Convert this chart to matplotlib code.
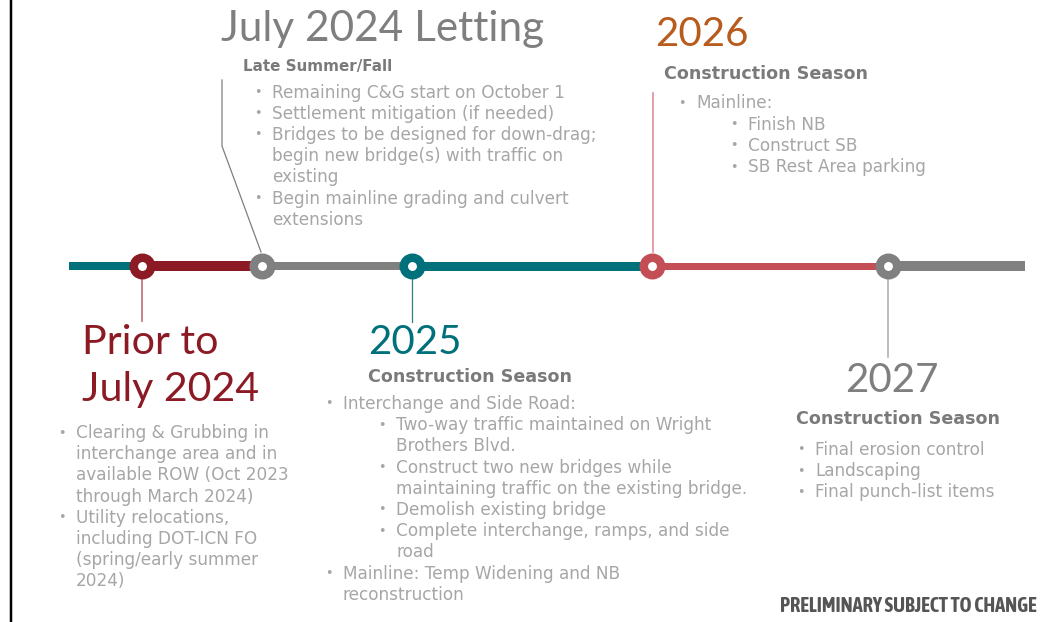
import matplotlib.pyplot as plt
from matplotlib import font_manager

plt.rcParams['font.family'] = ['DejaVu Sans']

# timeline milestones (pixel x along the line)
milestones = ["Prior to July 2024", "July 2024 Letting", "2025", "2026", "2027"]
milestone_x = [142, 262, 412, 652, 888]
milestone_colors = ["#8B1A24", "#808080", "#00707A", "#C44E55", "#808080"]

# line segments between milestones
segment_x = [69, 142, 262, 412, 652, 888, 1025]
segment_colors = ["#00707A", "#8B1A24", "#808080", "#00707A", "#C44E55", "#808080"]
segment_widths = [8, 10, 8, 9, 7, 10]

prior_bullets = ["Clearing & Grubbing in", "interchange area and in", "available ROW (Oct 2023",
                 "through March 2024)", "Utility relocations,", "including DOT-ICN FO",
                 "(spring/early summer", "2024)"]
prior_bullet_rows = [0, 4]

letting_bullets = ["Remaining C&G start on October 1", "Settlement mitigation (if needed)",
                   "Bridges to be designed for down-drag;", "begin new bridge(s) with traffic on",
                   "existing", "Begin mainline grading and culvert", "extensions"]
letting_bullet_rows = [0, 1, 2, 5]

y2025_lines = ["Interchange and Side Road:", "Two-way traffic maintained on Wright",
               "Brothers Blvd.", "Construct two new bridges while",
               "maintaining traffic on the existing bridge.", "Demolish existing bridge",
               "Complete interchange, ramps, and side", "road",
               "Mainline: Temp Widening and NB", "reconstruction"]
y2025_levels = [0, 1, 1, 1, 1, 1, 1, 1, 0, 0]
y2025_bullet_rows = [0, 1, 3, 5, 6, 8]

y2026_lines = ["Mainline:", "Finish NB", "Construct SB", "SB Rest Area parking"]
y2026_levels = [0, 1, 1, 1]

y2027_lines = ["Final erosion control", "Landscaping", "Final punch-list items"]

# narrow bold font for the footer if one is installed
narrow = [f for f in font_manager.fontManager.ttflist
          if ('Condensed' in f.name or 'Narrow' in f.name)]
narrow_bold = [f.name for f in narrow if isinstance(f.weight, int) and f.weight >= 600
               or f.weight in ('bold', 'heavy', 'black', 'semibold', 'demibold')]
if narrow_bold:
    footer_family = [narrow_bold[0]]
elif narrow:
    footer_family = [narrow[0].name]
else:
    footer_family = ['Roboto']

W, H = 1050, 622
fig = plt.figure(figsize=(W / 100, H / 100), dpi=100)
ax = fig.add_axes([0, 0, 1, 1])
ax.set_xlim(0, W)
ax.set_ylim(H, 0)
ax.axis('off')

PX = 0.72  # points per pixel at dpi 100
LIGHT = "#A6A6A6"
HEAD = "#7F7F7F"
SUB = "#7A7A7A"
BSIZE = 12.2
LH = 21.2
BIG = ['Lato', 'DejaVu Sans']

# left border
ax.plot([10.5, 10.5], [0, H], color="black", lw=2.5 * PX, solid_capstyle='butt')

# connectors
ax.plot([142, 142], [279, 321], color="#C06A75", lw=1.2)
ax.plot([222, 222, 261], [80, 146, 252], color="#7F7F7F", lw=0.9)
ax.plot([412, 412], [279, 322], color="#2F7F87", lw=0.9)
ax.plot([652.5, 652.5], [93, 252], color="#E0909A", lw=1.2)
ax.plot([888, 888], [278, 357], color="#B0B0B0", lw=1.2)

# timeline
for i, c in enumerate(segment_colors):
    ax.plot(segment_x[i:i + 2], [265.5, 265.5], color=c, lw=segment_widths[i] * PX,
            solid_capstyle='butt', zorder=2)
for x, c in zip(milestone_x, milestone_colors):
    ax.plot([x], [265.5], 'o', ms=12.6, mew=6.1, mfc='white', mec=c, zorder=3)


def bullets(lines, x_text, y0, bullet_rows, levels=None, indent=53, bullet_gap=18):
    for i, t in enumerate(lines):
        lvl = levels[i] if levels else 0
        xt = x_text + lvl * indent
        y = y0 + i * LH
        ax.text(xt, y, t, fontsize=BSIZE, color=LIGHT, va='center', ha='left')
        if i in bullet_rows:
            ax.text(xt - bullet_gap, y, "\u2022", fontsize=BSIZE * 0.75, color=LIGHT,
                    va='center', ha='left')


def heading(x, y, t, size=12.6):
    ax.text(x, y, t, fontsize=size, color=SUB, fontweight='bold', va='center', ha='left')


# July 2024 Letting
ax.text(221, 29, "July 2024 Letting", fontsize=30.4, color=HEAD, va='center', ha='left',
        family=BIG)
heading(243, 67, "Late Summer/Fall", 10.9)
bullets(letting_bullets, 272, 92.5, letting_bullet_rows)

# 2026
ax.text(655, 35, "2026", fontsize=29, color="#B85C1E", va='center', ha='left', family=BIG)
heading(664, 74, "Construction Season")
bullets(y2026_lines, 696, 103.5, [0, 1, 2, 3], y2026_levels, indent=52)

# Prior to July 2024
ax.text(82, 342, "Prior to", fontsize=29.6, color="#8B1A24", va='center', ha='left',
        family=BIG)
ax.text(82, 390, "July 2024", fontsize=29.6, color="#8B1A24", va='center', ha='left',
        family=BIG)
bullets(prior_bullets, 76, 433, prior_bullet_rows)

# 2025
ax.text(368, 342, "2025", fontsize=29, color="#00707A", va='center', ha='left', family=BIG)
heading(368, 377, "Construction Season")
bullets(y2025_lines, 343, 404, y2025_bullet_rows, y2025_levels)

# 2027
ax.text(845, 380, "2027", fontsize=29, color=HEAD, va='center', ha='left', family=BIG)
heading(796, 419, "Construction Season")
bullets(y2027_lines, 815, 450, [0, 1, 2])

ax.text(1037, 606, "PRELIMINARY SUBJECT TO CHANGE", fontsize=14.7, color="#555555",
        fontweight='bold', va='center', ha='right',
        family=footer_family + ['DejaVu Sans'])

fig.savefig("out.png", dpi=100)
